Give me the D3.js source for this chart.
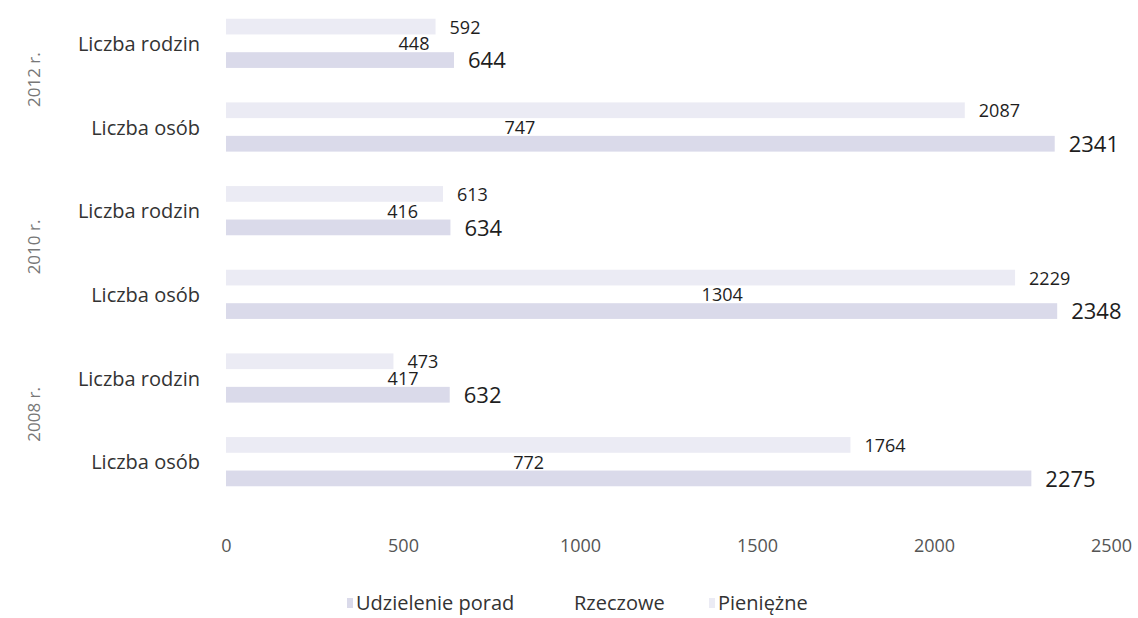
<!DOCTYPE html>
<html>
<head>
<meta charset="utf-8">
<script src="https://cdn.jsdelivr.net/npm/d3@7"></script>
<style>
  body { margin: 0; background: #fff; }
  svg { display: block; font-family: "Open Sans", sans-serif; }
</style>
</head>
<body>
<svg id="chart" width="1138" height="618"></svg>
<script>
// dane (od góry do dołu)
const years = ["2012 r.", "2010 r.", "2008 r."];
const measures = ["Liczba rodzin", "Liczba osób"];
const seriesNames = ["Udzielenie porad", "Rzeczowe", "Pieniężne"];
const udzieleniePorad = [644, 2341, 634, 2348, 632, 2275];
const rzeczowe = [448, 747, 416, 1304, 417, 772];
const pieniezne = [592, 2087, 613, 2229, 473, 1764];
const xTicks = [0, 500, 1000, 1500, 2000, 2500];

const categories = years.flatMap(y => measures.map(m => ({ year: y, measure: m, key: `${y}|${m}` })));
const seriesValues = [udzieleniePorad, rzeczowe, pieniezne];
const colors = ["#dadaea", "#ffffff", "#ebebf4"];

const svg = d3.select("#chart");

const xScale = d3.scaleLinear().domain([0, 2500]).range([226, 1111]);
const yScale = d3.scaleBand()
  .domain(categories.map(d => d.key))
  .range([2, 504])
  .paddingInner(0.4)
  .paddingOuter(0.2);
// pierwsza seria na dole grupy (jak w Excelu)
const subScale = d3.scaleBand()
  .domain(seriesNames.slice().reverse())
  .range([0, yScale.bandwidth()]);

const rows = categories.map((c, i) => ({
  ...c,
  values: seriesNames.map((s, j) => ({ series: s, idx: j, value: seriesValues[j][i] }))
}));

const groups = svg.selectAll("g.cat")
  .data(rows)
  .join("g")
  .attr("class", "cat")
  .attr("transform", d => `translate(0,${yScale(d.key)})`);

groups.selectAll("rect")
  .data(d => d.values)
  .join("rect")
  .attr("x", xScale(0))
  .attr("y", d => subScale(d.series))
  .attr("width", d => xScale(d.value) - xScale(0))
  .attr("height", subScale.bandwidth() - 1)
  .attr("fill", d => colors[d.idx]);

groups.selectAll("text.val")
  .data(d => d.values)
  .join("text")
  .attr("class", "val")
  .attr("x", d => xScale(d.value) + 14)
  .attr("y", d => subScale(d.series) + subScale.bandwidth() / 2)
  .attr("dy", "0.36em")
  .attr("font-size", d => d.idx === 0 ? 22 : 18)
  .attr("fill", "#1e1e1e")
  .text(d => d.value);

// etykiety kategorii
svg.selectAll("text.cat-label")
  .data(rows)
  .join("text")
  .attr("class", "cat-label")
  .attr("x", 200)
  .attr("y", d => yScale(d.key) + yScale.bandwidth() / 2)
  .attr("dy", "0.36em")
  .attr("text-anchor", "end")
  .attr("font-size", 20)
  .attr("fill", "#333")
  .text(d => d.measure);

// lata (pionowo)
svg.selectAll("text.year")
  .data(years)
  .join("text")
  .attr("class", "year")
  .attr("transform", y => {
    const cy = (yScale(`${y}|${measures[0]}`) + yScale(`${y}|${measures[1]}`) + yScale.bandwidth()) / 2;
    return `translate(34,${cy - 6}) rotate(-90)`;
  })
  .attr("dy", "0.36em")
  .attr("text-anchor", "middle")
  .attr("font-size", 17)
  .attr("fill", "#777")
  .text(d => d);

// oś X
const xAxis = svg.append("g")
  .attr("transform", "translate(0,539)")
  .call(d3.axisBottom(xScale).tickValues(xTicks).tickFormat(d3.format("d")).tickSize(0).tickPadding(0));
xAxis.select(".domain").remove();
xAxis.selectAll("text")
  .attr("font-family", "Open Sans, sans-serif")
  .attr("font-size", 18)
  .attr("fill", "#555");

// legenda
const legendX = [356, 574, 718];
const legend = svg.selectAll("g.legend")
  .data(seriesNames)
  .join("g")
  .attr("class", "legend")
  .attr("transform", (d, i) => `translate(${legendX[i]},603)`);
legend.append("rect")
  .attr("x", -9).attr("y", -5)
  .attr("width", 6).attr("height", 10)
  .attr("fill", (d, i) => colors[i]);
legend.append("text")
  .attr("dy", "0.36em")
  .attr("font-size", 20)
  .attr("fill", "#333")
  .text(d => d);
</script>
</body>
</html>
